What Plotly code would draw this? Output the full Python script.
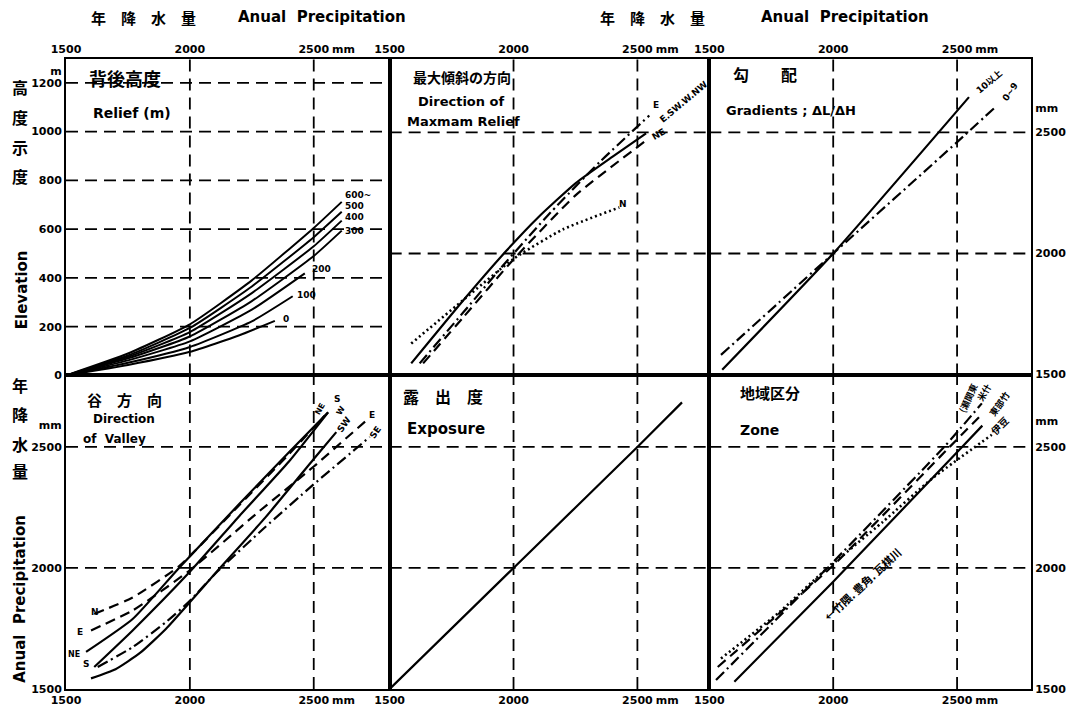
import plotly.graph_objects as go

# ---------------- data ----------------
precip_ticks = [1500, 2000, 2500]
precip_text = ["1500", "2000", "2500"]
elev_ticks = [0, 200, 400, 600, 800, 1000, 1200]
elev_text = ["0", "200", "400", "600", "800", "1000", "1200"]
elev_grid = [200, 400, 600, 800, 1000, 1200]
precip_grid = [2000, 2500]

# Panel 1: Relief (elevation vs precipitation), one curve per relief class
relief_labels = ["600~", "500", "400", "300", "200", "100", "0"]
relief_600_x = [1500, 1750, 2000, 2250, 2500, 2613]
relief_600_y = [0, 90, 210, 390, 605, 712]
relief_500_x = [1500, 1750, 2000, 2250, 2500, 2613]
relief_500_y = [0, 82, 195, 365, 567, 671]
relief_400_x = [1500, 1750, 2000, 2250, 2500, 2613]
relief_400_y = [0, 76, 178, 338, 530, 635]
relief_300_x = [1500, 1750, 2000, 2250, 2500, 2613]
relief_300_y = [0, 70, 160, 305, 490, 594]
relief_200_x = [1500, 1750, 2000, 2250, 2464]
relief_200_y = [0, 62, 140, 270, 419]
relief_100_x = [1500, 1750, 2000, 2250, 2415]
relief_100_y = [0, 52, 117, 222, 325]
relief_0_x = [1500, 1750, 2000, 2200, 2343]
relief_0_y = [0, 43, 97, 165, 224]

# Panel 2: Direction of maximum relief
dmr_E_x = [1621, 1800, 1970, 2150, 2350, 2548]
dmr_E_y = [1546, 1760, 1965, 2170, 2380, 2570]
dmr_ESWWNW_x = [1587, 1800, 1970, 2100, 2250, 2400, 2535]
dmr_ESWWNW_y = [1546, 1810, 2010, 2150, 2290, 2400, 2496]
dmr_NE_x = [1635, 1800, 1996, 2250, 2535]
dmr_NE_y = [1546, 1740, 1971, 2240, 2467]
dmr_N_x = [1587, 1800, 2000, 2200, 2427]
dmr_N_y = [1628, 1810, 1978, 2100, 2190]

# Panel 3: Gradients
grad_10_x = [1552, 2000, 2548]
grad_10_y = [1520, 2000, 2646]
grad_09_x = [1547, 2000, 2500, 2660]
grad_09_y = [1581, 2000, 2460, 2610]

# Panel 4: Direction of valley
val_N_x = [1614, 1769, 1957, 2200, 2400, 2545]
val_N_y = [1810, 1878, 2008, 2260, 2470, 2630]
val_E_x = [1601, 1769, 1997, 2282, 2500, 2712]
val_E_y = [1742, 1824, 1988, 2236, 2419, 2609]
val_NE_x = [1581, 1769, 1957, 2200, 2400, 2558]
val_NE_y = [1653, 1789, 2001, 2265, 2478, 2643]
val_S_x = [1614, 1769, 1997, 2200, 2400, 2558]
val_S_y = [1591, 1742, 1981, 2215, 2440, 2643]
val_SW_x = [1601, 1700, 1800, 1903, 1997, 2111, 2306, 2500, 2591]
val_SW_y = [1544, 1582, 1650, 1748, 1855, 1988, 2210, 2450, 2561]
val_SE_x = [1628, 1769, 1903, 1997, 2111, 2300, 2497, 2726]
val_SE_y = [1591, 1673, 1776, 1861, 1985, 2165, 2343, 2541]

# Panel 5: Exposure
exp_x = [1500, 2000, 2500, 2680]
exp_y = [1500, 2000, 2500, 2684]

# Panel 6: Zone
zone_a_x = [1527, 1997, 2448, 2600]
zone_a_y = [1537, 2022, 2500, 2680]
zone_b_x = [1534, 1997, 2470, 2602]
zone_b_y = [1591, 2008, 2500, 2637]
zone_c_x = [1601, 1997, 2520, 2602]
zone_c_y = [1530, 1940, 2500, 2588]
zone_d_x = [1547, 1782, 1950, 2200, 2400, 2640]
zone_d_y = [1626, 1817, 1975, 2190, 2370, 2550]

# ---------------- layout geometry ----------------
W, H = 1078, 719
L, R, T, B = 66, 1032, 59, 694
PW, PH = R - L, B - T


def P(px, py):
    return (px - L) / PW, (B - py) / PH


d1 = (390 - L) / PW
d2 = (710 - L) / PW
ys = (B - 378) / PH

LAT = "DejaVu Sans"
CJK = "Noto Sans CJK JP"

fig = go.Figure()

SOLID = "solid"
DASH = "10px,6px"
DOT = "2px,3px"
DASHDOT = "11px,4px,2px,4px"


def add(xs, ys_, n, dash, width=2.2):
    fig.add_trace(go.Scatter(
        x=xs, y=ys_, mode="lines",
        line=dict(color="black", width=width, dash=dash, shape="spline", smoothing=0.5),
        xaxis="x" if n == 1 else f"x{n}", yaxis="y" if n == 1 else f"y{n}",
        hoverinfo="skip", showlegend=False))


# panel 1
for xs, yv in [(relief_600_x, relief_600_y), (relief_500_x, relief_500_y),
               (relief_400_x, relief_400_y), (relief_300_x, relief_300_y),
               (relief_200_x, relief_200_y), (relief_100_x, relief_100_y),
               (relief_0_x, relief_0_y)]:
    add(xs, yv, 1, SOLID, 2.0)
# panel 2
add(dmr_E_x, dmr_E_y, 2, DASHDOT)
add(dmr_ESWWNW_x, dmr_ESWWNW_y, 2, SOLID)
add(dmr_NE_x, dmr_NE_y, 2, DASH)
add(dmr_N_x, dmr_N_y, 2, DOT, 2.6)
# panel 3
add(grad_10_x, grad_10_y, 3, SOLID)
add(grad_09_x, grad_09_y, 3, DASHDOT)
# panel 4
add(val_N_x, val_N_y, 4, DASH)
add(val_E_x, val_E_y, 4, DASH)
add(val_NE_x, val_NE_y, 4, SOLID)
add(val_S_x, val_S_y, 4, SOLID)
add(val_SW_x, val_SW_y, 4, SOLID)
add(val_SE_x, val_SE_y, 4, DASHDOT)
# panel 5
add(exp_x, exp_y, 5, SOLID)
# panel 6
add(zone_a_x, zone_a_y, 6, DASHDOT)
add(zone_b_x, zone_b_y, 6, DASH)
add(zone_c_x, zone_c_y, 6, SOLID)
add(zone_d_x, zone_d_y, 6, DOT, 2.6)

tickfont = dict(family=LAT, size=11, color="black", weight="bold")
common = dict(showline=True, linecolor="black", linewidth=2, mirror=True,
              showgrid=False, zeroline=False, ticks="", tickfont=tickfont,
              fixedrange=True)

xr = {1: [1500, 1500 + (390 - L) / 0.248], 2: [1500, 1500 + 320 / 0.248],
      3: [1500, 1500 + (R - 710) / 0.248]}
xdom = {1: [0, d1], 2: [d1, d2], 3: [d2, 1]}

x_tickvals = precip_ticks + [2620]
x_ticktext = precip_text + ["mm"]

layout_axes = {}
for n in range(1, 7):
    col = (n - 1) % 3 + 1
    top = n <= 3
    xname = "xaxis" if n == 1 else f"xaxis{n}"
    yname = "yaxis" if n == 1 else f"yaxis{n}"
    xa = dict(common, domain=xdom[col], range=xr[col],
              anchor="y" if n == 1 else f"y{n}",
              side="top" if top else "bottom",
              tickmode="array", tickvals=x_tickvals, ticktext=x_ticktext)
    ya = dict(common, domain=[ys, 1] if top else [0, ys],
              anchor="x" if n == 1 else f"x{n}")
    if n == 1:
        ya.update(range=[0, (378 - T) / 0.2458], tickmode="array",
                  tickvals=elev_ticks + [1250], ticktext=elev_text + ["m"])
    elif top:
        ya.update(range=[1496, 1496 + (378 - T) / 0.244])
    else:
        ya.update(range=[1500, 1500 + (B - 378) / 0.244])
    if n in (2, 5):
        ya.update(showticklabels=False)
    if n == 3:
        ya.update(side="right", tickmode="array",
                  tickvals=precip_ticks + [2600], ticktext=precip_text + ["mm"])
    if n == 4:
        ya.update(tickmode="array",
                  tickvals=precip_ticks + [2590], ticktext=precip_text + ["mm"])
    if n == 6:
        ya.update(side="right", tickmode="array",
                  tickvals=precip_ticks + [2605], ticktext=precip_text + ["mm"])
    layout_axes[xname] = xa
    layout_axes[yname] = ya

# dashed grid lines drawn on each panel's scales
shapes = []
GRID = dict(color="black", width=1.8, dash="12px,7px")
for n in range(1, 7):
    xs_ = "x" if n == 1 else f"x{n}"
    ys_ = "y" if n == 1 else f"y{n}"
    for v in precip_grid:
        shapes.append(dict(type="line", xref=xs_, yref=f"{ys_} domain",
                           x0=v, x1=v, y0=0, y1=1, line=GRID, layer="below"))
    hg = elev_grid if n == 1 else precip_grid
    for v in hg:
        shapes.append(dict(type="line", xref=f"{xs_} domain", yref=ys_,
                           x0=0, x1=1, y0=v, y1=v, line=GRID, layer="below"))

annotations = []


def txt(s, px, py, size=12, fam=LAT, angle=0, bold=True):
    x, y = P(px, py)
    annotations.append(dict(text=s, x=x, y=y, xref="paper", yref="paper",
                            showarrow=False, textangle=angle,
                            xanchor="center", yanchor="middle",
                            font=dict(family=fam + ", " + CJK, size=size, color="black",
                                      weight="bold" if bold else "normal")))


# top titles
txt("年　降　水　量", 144, 17, 15, CJK)
txt("Anual  Precipitation", 322, 17, 15)
txt("年　降　水　量", 653, 17, 15, CJK)
txt("Anual  Precipitation", 846, 17, 15)

# left titles
for ch, py in zip("高度示度", [87, 117, 148, 177]):
    txt(ch, 20, py, 16, CJK)
txt("Elevation", 22, 292, 15, angle=-90)
for ch, py in zip("年降水量", [388, 417, 447, 474]):
    txt(ch, 20, py, 16, CJK)
txt("Anual  Precipitation", 20, 603, 15, angle=-90)

# panel titles
txt("背後高度", 125, 78, 18, CJK)
txt("Relief (m)", 132, 113, 14)
txt("最大傾斜の方向", 462, 77, 14, CJK)
txt("Direction of", 461, 102, 13)
txt("Maxmam Relief", 464, 122, 13)
txt("勾　　配", 766, 74, 16, CJK)
txt("Gradients ; ΔL/ΔH", 792, 111, 13)
txt("谷　方　向", 125, 402, 15, CJK)
txt("Direction", 124, 422, 12)
txt("of  Valley", 115, 442, 12)
txt("露　出　度", 443, 399, 16, CJK)
txt("Exposure", 446, 432, 15)
txt("地域区分", 771, 395, 15, CJK)
txt("Zone", 760, 433, 14)

# curve labels panel 1
for s, px, py in zip(relief_labels,
                     [358, 355, 355, 355, 322, 307, 286],
                     [196, 207, 218, 232, 271, 297, 321]):
    txt(s, px, py, 9)
# panel 2
txt("E", 657, 105, 9)
txt("E.SW.W.NW", 684, 102, 9, angle=-40)
txt("NE", 660, 135, 9, angle=-30)
txt("N", 624, 205, 9)
# panel 3
txt("10以上", 990, 82, 9, angle=-40)
txt("0~9", 1011, 92, 9, angle=-55)
# panel 4
txt("N", 95, 616, 9)
txt("E", 80, 637, 9)
txt("NE", 74, 659, 8)
txt("S", 86, 669, 9)
txt("NE", 320, 412, 8, angle=-60)
txt("S", 337, 402, 9)
txt("W", 341, 413, 8, angle=-60)
txt("SW", 344, 428, 9, angle=-55)
txt("E", 372, 418, 9)
txt("SE", 376, 435, 9, angle=-55)
# panel 6
txt("(瀬関東", 969, 401, 9, CJK, angle=-65)
txt("米什", 985, 395, 9, CJK, angle=-60)
txt("東部竹", 1000, 407, 9, CJK, angle=-55)
txt("伊豆", 1000, 428, 10, CJK, angle=-45)
txt("←竹隈. 豊角. 瓦棋川", 863, 588, 11, CJK, angle=-43)

fig.update_layout(
    width=W, height=H,
    margin=dict(l=L, r=W - R, t=T, b=H - B, pad=0),
    paper_bgcolor="white", plot_bgcolor="white",
    showlegend=False, shapes=shapes, annotations=annotations,
    **layout_axes)

fig.write_html("out.html")
